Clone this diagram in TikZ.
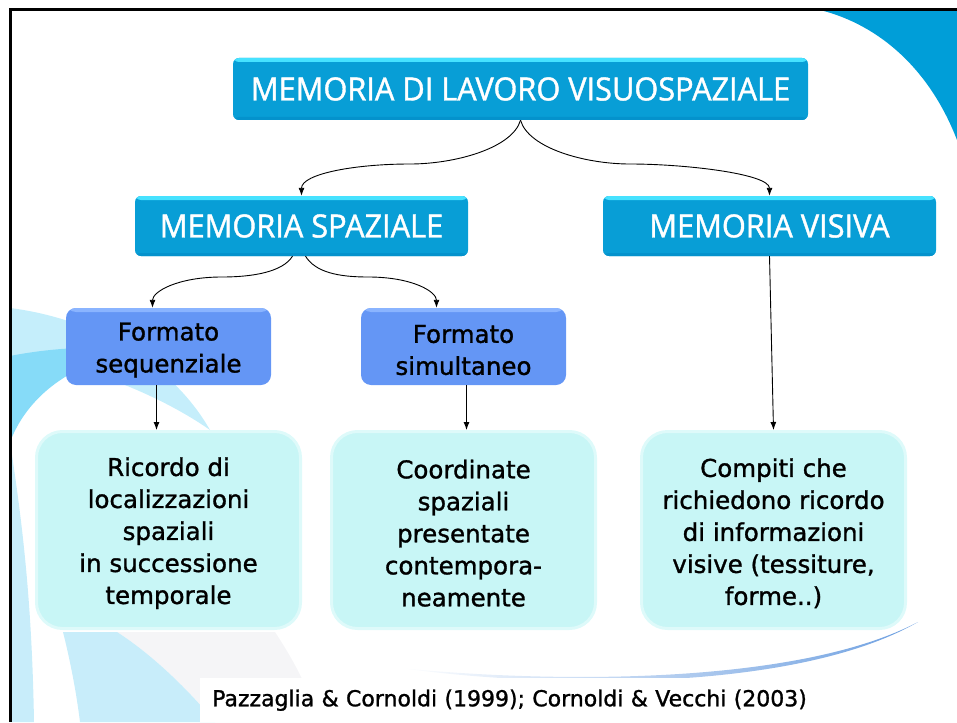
\documentclass[tikz,border=0pt]{standalone}
\usepackage{fontspec}
\setmainfont{DejaVu Sans}[FakeBold=1.2]
\newfontfamily\titlefont[FakeStretch=0.96, FakeBold=1.2]{Open Sans}
\usetikzlibrary{arrows.meta}
\newcommand{\primariga}{\rule{0pt}{25pt}}% 一行目を少し下げる

\begin{document}
\begin{tikzpicture}[
    x=1pt, y=-1pt, % 1pt = 1px, y軸は下向き
    >={Latex[length=8pt,width=6pt]}, % 矢印のスタイル
    link/.style={->, line width=0.9pt},
    titlebox/.style={rounded corners=6, fill={rgb,255:red,8;green,158;blue,214},
        text=white, font=\titlefont\fontsize{32}{36}\selectfont,
        path picture={
            \fill[fill={rgb,255:red,70;green,226;blue,255}] (path picture bounding box.north west) rectangle ([yshift=-4pt]path picture bounding box.north east);
            \fill[fill={rgb,255:red,4;green,146;blue,204}] (path picture bounding box.south west) rectangle ([yshift=3pt]path picture bounding box.south east);
        }},
    fmtbox/.style={rounded corners=10, fill={rgb,255:red,100;green,150;blue,245},
        minimum width=205, minimum height=77, align=center,
        font=\fontsize{24.5}{32}\selectfont,
        path picture={
            \fill[fill={rgb,255:red,138;green,180;blue,255}] (path picture bounding box.north west) rectangle ([yshift=-4pt]path picture bounding box.north east);
        }},
    bigbox/.style={rounded corners=26, fill={rgb,255:red,200;green,246;blue,246},
        draw={rgb,255:red,222;green,250;blue,250}, line width=3pt,
        minimum width=264, minimum height=197, align=center,
        font=\fontsize{24.5}{32}\selectfont},
    pale/.style={fill={rgb,255:red,200;green,237;blue,250}},
    ]

    \useasboundingbox (0,0) rectangle (957,722);

    % --- 背景の飾り ---
    % 右上の青い部分
    \fill[fill={rgb,255:red,0;green,158;blue,216}] (820,10) .. controls (880,25) and (930,70) .. (957,140) -- (957,10) -- cycle;
    % 左の水色の帯
    \fill[fill={rgb,255:red,197;green,238;blue,251}] (10,308) .. controls (90,318) and (170,360) .. (210,430) .. controls (160,395) and (80,362) .. (10,356) -- cycle;
    \fill[fill={rgb,255:red,134;green,219;blue,248}] (10,356) .. controls (50,348) and (100,345) .. (140,350) .. controls (80,360) and (30,390) .. (10,442) -- cycle;
    \fill[pale] (10,442) .. controls (22,520) and (32,600) .. (34,722) -- (10,722) -- cycle;
    \fill[fill={rgb,255:red,245;green,245;blue,247}] (117,632) -- (275,632) .. controls (290,655) and (305,680) .. (320,722) -- (215,722) .. controls (180,680) and (145,650) .. (117,632) -- cycle;
    \fill[pale] (63,632) .. controls (70,660) and (76,690) .. (80,722) -- (215,722) .. controls (180,680) and (145,650) .. (117,632) -- cycle;
    % 右下の弧
    \shade[left color=white, right color={rgb,255:red,110;green,160;blue,225}] (400,668) .. controls (560,690) and (800,690) .. (918,622) .. controls (800,684) and (560,684) .. (400,668) -- cycle;

    % --- 枠 ---
    \draw[line width=3pt] (957,10) -- (10,10) -- (10,722);

    % --- ボックス ---
    \node[titlebox, minimum width=575, minimum height=62] (mlv) at (520.5,89) {MEMORIA DI LAVORO VISUOSPAZIALE};
    \node[titlebox, minimum width=333, minimum height=60] (spaziale) at (301.5,226) {MEMORIA SPAZIALE};
    \node[titlebox, minimum width=333, minimum height=60] (visiva) at (769.5,226) {MEMORIA VISIVA};

    \node[fmtbox] (seq) at (168.5,346.5) {\primariga Formato\\sequenziale};
    \node[fmtbox] (sim) at (463.5,346.5) {\primariga Formato\\simultaneo};

    \node[bigbox] (ricordo) at (168.5,530) {\primariga Ricordo di\\localizzazioni\\spaziali\\in successione\\temporale};
    \node[bigbox] (coord) at (463.5,530) {\primariga Coordinate\\spaziali\\presentate\\contempora-\\neamente};
    \node[bigbox] (compiti) at (773.5,530) {\primariga Compiti che\\richiedono ricordo\\di informazioni\\visive (tessiture,\\forme..)};

    % 出典
    \node[fill=white, anchor=north west, minimum height=44, inner xsep=12, text width=610,
        font=\fontsize{22}{26}\selectfont] (fonte) at (200,678) {Pazzaglia \& Cornoldi (1999); Cornoldi \& Vecchi (2003)};

    % --- 矢印 ---
    \draw[link] (mlv.south) .. controls +(-8,28) and +(45,0) .. (410,164) .. controls +(-55,0) and +(0,-22) .. (spaziale.north);
    \draw[link] (mlv.south) .. controls +(8,28) and +(-45,0) .. (630,164) .. controls +(55,0) and +(0,-22) .. (visiva.north);
    \draw[link] ([xshift=-9pt]spaziale.south) .. controls +(-10,16) and +(30,0) .. (222,277) .. controls +(-45,0) and +(0,-16) .. ([xshift=-16pt]seq.north);
    \draw[link] ([xshift=4pt]spaziale.south) .. controls +(10,16) and +(-30,0) .. (368,277) .. controls +(45,0) and +(0,-16) .. ([xshift=-27pt]sim.north);
    \draw[link] ([xshift=-12pt]seq.south) -- ([xshift=-12pt]ricordo.north);
    \draw[link] ([xshift=3pt]sim.south) -- ([xshift=3pt]coord.north);
    \draw[link] (visiva.south) -- (compiti.north);

\end{tikzpicture}
\end{document}
